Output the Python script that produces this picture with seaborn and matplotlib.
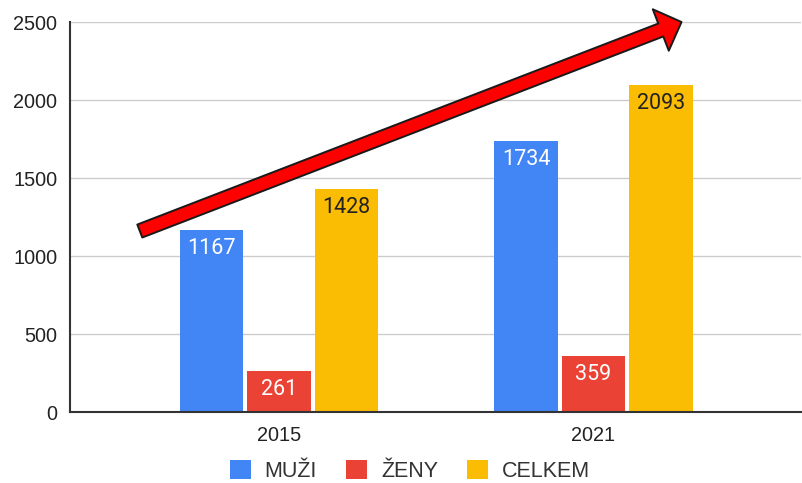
import matplotlib
matplotlib.use("Agg")
import matplotlib.pyplot as plt
import seaborn as sns
import pandas as pd
from matplotlib.patches import FancyArrowPatch

years = ["2015", "2021"]
series = ["MUŽI", "ŽENY", "CELKEM"]
muzi = [1167, 1734]
zeny = [261, 359]
celkem = [1428, 2093]
colors = ["#4285F4", "#EA4335", "#FBBC04"]
label_colors = ["white", "white", "#222222"]
y_ticks = [0, 500, 1000, 1500, 2000, 2500]

rows = []
for i, y in enumerate(years):
    for s, vals in zip(series, [muzi, zeny, celkem]):
        rows.append({"rok": y, "skupina": s, "pocet": vals[i]})
df = pd.DataFrame(rows)

sns.set_theme(style="white")
plt.rcParams["font.family"] = ["Liberation Sans", "DejaVu Sans"]

fig = plt.figure(figsize=(8.02, 4.83), dpi=100)
ax = fig.add_axes([70 / 802, 1 - 412 / 483, 731 / 802, 390 / 483])

sns.barplot(data=df, x="rok", y="pocet", hue="skupina", hue_order=series,
            palette=colors, width=0.645, gap=0.06, ax=ax, saturation=1,
            edgecolor="none", linewidth=0)

ax.set_xlim(-0.665, 1.66)
ax.set_ylim(0, 2500)
ax.set_yticks(y_ticks)
ax.set_xlabel("")
ax.set_ylabel("")
ax.grid(axis="y", color="#cccccc", linewidth=1)
ax.set_axisbelow(True)
for side in ["top", "right"]:
    ax.spines[side].set_visible(False)
for side in ["left", "bottom"]:
    ax.spines[side].set_color("#333333")
    ax.spines[side].set_linewidth(1.5)
ax.tick_params(axis="both", length=0, labelsize=14.3, colors="#222222")
ax.tick_params(axis="y", pad=9)
ax.tick_params(axis="x", pad=10)

for cont, lc in zip(ax.containers, label_colors):
    for p in cont:
        h = p.get_height()
        ax.annotate(f"{int(round(h))}", (p.get_x() + p.get_width() / 2, h),
                    xytext=(0, -13), textcoords="offset points",
                    ha="center", va="center", fontsize=15.5, color=lc,
                    family=["Roboto", "DejaVu Sans"])

arrow = FancyArrowPatch((-0.443, 1160), (1.28, 2500),
                        arrowstyle="simple,head_length=16,head_width=32,tail_width=10",
                        mutation_scale=1, shrinkA=0, shrinkB=0,
                        facecolor="#ff0000", edgecolor="#1a1a1a", linewidth=1.4,
                        clip_on=False, zorder=5)
ax.add_patch(arrow)

sns.move_legend(ax, "center", bbox_to_anchor=(0.511, 1 - 471 / 483),
                bbox_transform=fig.transFigure, ncol=3, frameon=False,
                title=None, fontsize=15.5, handlelength=0.97, handleheight=0.97,
                handletextpad=0.65, columnspacing=1.35)
leg = ax.get_legend()
leg.set_bbox_to_anchor((0.511, 1 - 471 / 483), transform=fig.transFigure)
for t in leg.get_texts():
    t.set_color("#333333")

fig.savefig("out.png", dpi=100)
